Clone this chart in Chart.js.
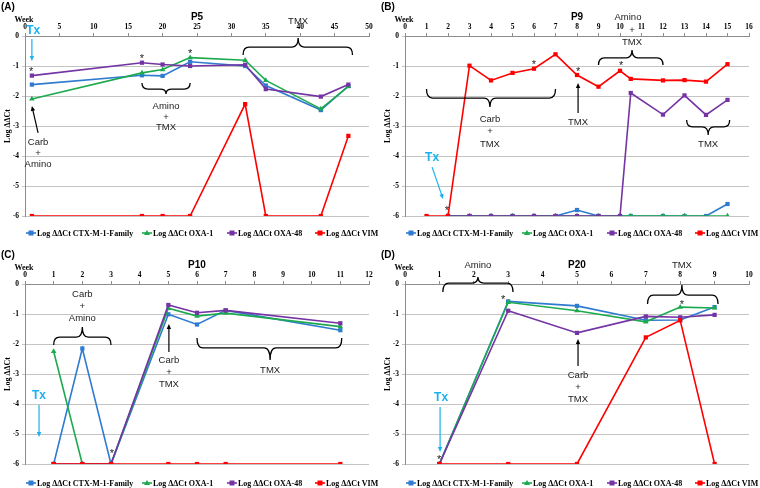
<!DOCTYPE html>
<html>
<head>
<meta charset="utf-8">
<script src="https://cdn.jsdelivr.net/npm/chart.js@4.4.1/dist/chart.umd.min.js"></script>
<style>
    body { margin: 0; background: #fff; width: 760px; height: 488px; position: relative; overflow: hidden; }
    canvas { position: absolute; }
</style>
</head>
<body>
<canvas id="cA" width="380" height="244" style="left:0;top:0"></canvas>
<canvas id="cB" width="380" height="244" style="left:380px;top:0"></canvas>
<canvas id="cC" width="380" height="240" style="left:0;top:248px"></canvas>
<canvas id="cD" width="380" height="240" style="left:380px;top:248px"></canvas>
<script>
// Données (semaines / Log ΔΔCt)
const seriesNames = ['Log ΔΔCt CTX-M-1-Family', 'Log ΔΔCt OXA-1', 'Log ΔΔCt OXA-48', 'Log ΔΔCt VIM'];

// P5
const p5Weeks  = [1, 17, 20, 24, 32, 35, 43, 47];
const p5Ctx    = [-1.62, -1.31, -1.33, -0.86, -1.0, -1.65, -2.47, -1.67];
const p5Oxa1   = [-2.1, -1.23, -1.12, -0.72, -0.81, -1.48, -2.43, -1.68];
const p5Oxa48  = [-1.32, -0.89, -0.95, -1.0, -0.96, -1.77, -2.02, -1.62];
const p5Vim    = [-6, -6, -6, -6, -2.27, -6, -6, -3.33];

// P9
const p9Weeks  = [1, 2, 3, 4, 5, 6, 7, 8, 9, 10, 10.5, 12, 13, 14, 15];
const p9Ctx    = [null, -6, -6, -6, -6, -6, -6, -5.8, -6, -6, -6, -6, -6, -6, -5.6];
const p9Oxa1   = [null, -6, -6, -6, -6, -6, -6, -6, -6, -6, -6, -6, -6, null, -6];
const p9Oxa48  = [null, -6, -6, -6, -6, -6, -6, -6, -6, -6, -1.9, -2.62, -1.98, -2.63, -2.13];
const p9Vim    = [-6, -6, -0.99, -1.48, -1.23, -1.09, -0.61, -1.3, -1.69, -1.16, -1.43, -1.48, -1.47, -1.52, -0.94];

// P10
const p10Weeks = [1, 2, 3, 5, 6, 7, 11];
const p10Ctx   = [-6, -2.15, -6, -1.01, -1.35, -0.88, -1.54];
const p10Oxa1  = [-2.25, -6, -6, -0.81, -1.07, -0.97, -1.42];
const p10Oxa48 = [-6, -6, -6, -0.7, -0.96, -0.88, -1.31];
const p10Vim   = [-6, -6, -6, -6, -6, -6, -6];

// P20
const p20Weeks = [1, 3, 5, 7, 8, 9];
const p20Ctx   = [-6, -0.58, -0.73, -1.21, -1.2, -0.77];
const p20Oxa1  = [-6, -0.61, -0.89, -1.26, -0.77, -0.8];
const p20Oxa48 = [-6, -0.89, -1.63, -1.08, -1.11, -1.03];
const p20Vim   = [-6, -6, -6, -1.78, -1.21, -6];

const colors = ['#2E7BCF', '#1DAA4F', '#7434A4', '#FF0000'];
const shapes = ['rect', 'triangle', 'rect', 'rect'];
const TXBLUE = '#1AB2EE';
const SANS = '"Liberation Sans", Arial, sans-serif';
const SERIF = '"Liberation Serif", "Times New Roman", serif';

function points(weeks, vals) {
    return weeks.map((w, i) => ({ x: w, y: vals[i] }));
}

function dataset(i, weeks, vals) {
    return {
        label: seriesNames[i],
        data: points(weeks, vals),
        borderColor: colors[i],
        backgroundColor: colors[i],
        borderWidth: 1.6,
        pointStyle: shapes[i],
        pointRadius: i === 1 ? 3.2 : 3,
        pointBorderWidth: 0,
        spanGaps: true,
        tension: 0
    };
}

// annotations (accolades, flèches, textes) en coordonnées de données
function drawBrace(ctx, xa, xb, xt, ye, yb, yt) {
    const r = Math.min(6, Math.abs(xb - xa) / 5);
    ctx.beginPath();
    ctx.moveTo(xa, ye);
    ctx.quadraticCurveTo(xa, yb, xa + r, yb);
    ctx.lineTo(xt - r, yb);
    ctx.quadraticCurveTo(xt, yb, xt, yt);
    ctx.moveTo(xt, yt);
    ctx.quadraticCurveTo(xt, yb, xt + r, yb);
    ctx.lineTo(xb - r, yb);
    ctx.quadraticCurveTo(xb, yb, xb, ye);
    ctx.stroke();
}

function drawArrow(ctx, x1, y1, x2, y2, color) {
    const ang = Math.atan2(y2 - y1, x2 - x1);
    ctx.strokeStyle = color;
    ctx.fillStyle = color;
    ctx.lineWidth = 1.2;
    ctx.beginPath();
    ctx.moveTo(x1, y1);
    ctx.lineTo(x2 - 4 * Math.cos(ang), y2 - 4 * Math.sin(ang));
    ctx.stroke();
    ctx.beginPath();
    ctx.moveTo(x2, y2);
    ctx.lineTo(x2 - 5 * Math.cos(ang) + 2.2 * Math.sin(ang), y2 - 5 * Math.sin(ang) - 2.2 * Math.cos(ang));
    ctx.lineTo(x2 - 5 * Math.cos(ang) - 2.2 * Math.sin(ang), y2 - 5 * Math.sin(ang) + 2.2 * Math.cos(ang));
    ctx.closePath();
    ctx.fill();
}

function makeDecor(letter, title, notes, legendY) {
    return {
        id: 'decor' + letter,
        afterDraw(chart) {
            const { ctx, chartArea, scales: { x, y } } = chart;
            const X = v => x.getPixelForValue(v);
            const Y = v => y.getPixelForValue(v);
            ctx.save();

            // lettre, titre, "Week", titre de l'axe y
            ctx.fillStyle = '#000';
            ctx.textBaseline = 'middle';
            ctx.textAlign = 'left';
            ctx.font = 'bold 10px ' + SANS;
            ctx.fillText('(' + letter + ')', 1, 7);
            ctx.textAlign = 'center';
            ctx.font = 'bold 10px ' + SANS;
            ctx.fillText(title, (chartArea.left + chartArea.right) / 2, 17);
            ctx.font = 'bold 8px ' + SERIF;
            ctx.fillText('Week', 24, 20);
            ctx.save();
            ctx.translate(8, (chartArea.top + chartArea.bottom) / 2);
            ctx.rotate(-Math.PI / 2);
            ctx.fillText('Log ΔΔCt', 0, 0);
            ctx.restore();

            // annotations
            notes.forEach(a => {
                if (a.k === 'text') {
                    ctx.fillStyle = '#222';
                    ctx.font = '9.5px ' + SANS;
                    ctx.textAlign = 'center';
                    ctx.fillText(a.s, X(a.x), Y(a.y));
                } else if (a.k === 'star') {
                    ctx.fillStyle = '#222';
                    ctx.font = '11px ' + SANS;
                    ctx.textAlign = 'center';
                    ctx.fillText('*', X(a.x), Y(a.y) + 3);
                } else if (a.k === 'tx') {
                    ctx.fillStyle = TXBLUE;
                    ctx.font = 'bold 12px ' + SANS;
                    ctx.textAlign = 'center';
                    ctx.fillText('Tx', X(a.x), Y(a.y));
                } else if (a.k === 'arrow') {
                    drawArrow(ctx, X(a.x1), Y(a.y1), X(a.x2), Y(a.y2), a.blue ? TXBLUE : '#000');
                } else if (a.k === 'brace') {
                    ctx.strokeStyle = '#000';
                    ctx.lineWidth = 1.3;
                    drawBrace(ctx, X(a.xa), X(a.xb), X(a.xt), Y(a.ye), Y(a.yb), Y(a.yt));
                }
            });

            // légende façon Excel
            const lx = [26, 142, 227, 315];
            ctx.font = 'bold 8px ' + SERIF;
            ctx.textAlign = 'left';
            chart.data.datasets.slice().reverse().forEach((ds, i) => {
                const x0 = lx[i];
                ctx.strokeStyle = ds.borderColor;
                ctx.lineWidth = 1.6;
                ctx.beginPath();
                ctx.moveTo(x0, legendY);
                ctx.lineTo(x0 + 10, legendY);
                ctx.stroke();
                ctx.fillStyle = ds.borderColor;
                if (ds.pointStyle === 'triangle') {
                    ctx.beginPath();
                    ctx.moveTo(x0 + 5, legendY - 3);
                    ctx.lineTo(x0 + 8, legendY + 2);
                    ctx.lineTo(x0 + 2, legendY + 2);
                    ctx.closePath();
                    ctx.fill();
                } else {
                    ctx.fillRect(x0 + 2.5, legendY - 2.5, 5, 5);
                }
                ctx.fillStyle = '#000';
                ctx.fillText(ds.label, x0 + 11, legendY + 0.5);
            });
            ctx.restore();
        }
    };
}

function buildChart(id, letter, title, xMax, step, weeks, ctxV, oxa1, oxa48, vim, notes, padBottom, legendY) {
    const tickFont = { family: SERIF, size: 7.5, weight: 'bold' };
    return new Chart(document.getElementById(id), {
        type: 'line',
        data: {
            // VIM en premier = dessiné au-dessus
            datasets: [
                dataset(3, weeks, vim),
                dataset(2, weeks, oxa48),
                dataset(1, weeks, oxa1),
                dataset(0, weeks, ctxV)
            ]
        },
        options: {
            animation: false,
            responsive: false,
            layout: { padding: { left: 0, top: 0, right: 11, bottom: padBottom } },
            plugins: { legend: { display: false }, tooltip: { enabled: false } },
            scales: {
                x: {
                    type: 'linear',
                    position: 'top',
                    min: 0,
                    max: xMax,
                    ticks: { stepSize: step, color: '#000', font: tickFont, padding: 1, maxRotation: 0 },
                    grid: { drawOnChartArea: false, tickLength: 3, color: '#8c8c8c' },
                    border: { color: '#8c8c8c' },
                    afterFit: s => { s.height = 36; }
                },
                y: {
                    min: -6,
                    max: 0,
                    ticks: { stepSize: 1, color: '#000', font: tickFont, padding: 3 },
                    grid: { color: '#c4c4c4', tickLength: 3 },
                    border: { color: '#8c8c8c' },
                    afterFit: s => { s.width = 25; }
                }
            }
        },
        plugins: [makeDecor(letter, title, notes, legendY)]
    });
}

const notesA = [
    { k: 'tx', x: 1.2, y: 0.17 },
    { k: 'arrow', blue: true, x1: 1.0, y1: -0.1, x2: 1.0, y2: -0.83 },
    { k: 'star', x: 0.9, y: -1.1 },
    { k: 'star', x: 17, y: -0.67 },
    { k: 'star', x: 24, y: -0.5 },
    { k: 'brace', xa: 17, xb: 24, xt: 20.5, ye: -1.57, yb: -1.77, yt: -1.93 },
    { k: 'text', s: 'Amino', x: 20.5, y: -2.33 },
    { k: 'text', s: '+', x: 20.5, y: -2.7 },
    { k: 'text', s: 'TMX', x: 20.5, y: -3.03 },
    { k: 'arrow', x1: 1.9, y1: -3.23, x2: 1.0, y2: -2.33 },
    { k: 'text', s: 'Carb', x: 1.9, y: -3.53 },
    { k: 'text', s: '+', x: 1.9, y: -3.9 },
    { k: 'text', s: 'Amino', x: 1.9, y: -4.27 },
    { k: 'brace', xa: 31.7, xb: 47.6, xt: 39.7, ye: -0.63, yb: -0.37, yt: -0.07 },
    { k: 'text', s: 'TMX', x: 39.7, y: 0.5 }
];

const notesB = [
    { k: 'text', s: 'Amino', x: 10.37, y: 0.63 },
    { k: 'text', s: '+', x: 10.56, y: 0.2 },
    { k: 'text', s: 'TMX', x: 10.56, y: -0.2 },
    { k: 'brace', xa: 9, xb: 12, xt: 10.56, ye: -0.97, yb: -0.73, yt: -0.47 },
    { k: 'star', x: 6, y: -0.87 },
    { k: 'star', x: 8.05, y: -1.1 },
    { k: 'star', x: 10.05, y: -0.9 },
    { k: 'star', x: 1.95, y: -5.73 },
    { k: 'brace', xa: 1, xb: 7, xt: 3.95, ye: -1.77, yb: -2.07, yt: -2.37 },
    { k: 'text', s: 'Carb', x: 3.95, y: -2.77 },
    { k: 'text', s: '+', x: 3.95, y: -3.17 },
    { k: 'text', s: 'TMX', x: 3.95, y: -3.6 },
    { k: 'arrow', x1: 8.05, y1: -2.57, x2: 8.05, y2: -1.57 },
    { k: 'text', s: 'TMX', x: 8.05, y: -2.87 },
    { k: 'brace', xa: 13.1, xb: 15.1, xt: 14.1, ye: -2.8, yb: -3.03, yt: -3.3 },
    { k: 'text', s: 'TMX', x: 14.1, y: -3.6 },
    { k: 'tx', x: 1.26, y: -4.07 },
    { k: 'arrow', blue: true, x1: 1.26, y1: -4.37, x2: 1.77, y2: -5.43 }
];

const notesC = [
    { k: 'text', s: 'Carb', x: 2, y: -0.33 },
    { k: 'text', s: '+', x: 2, y: -0.73 },
    { k: 'text', s: 'Amino', x: 2, y: -1.13 },
    { k: 'brace', xa: 1, xb: 3, xt: 2, ye: -2.03, yb: -1.77, yt: -1.43 },
    { k: 'arrow', x1: 5.02, y1: -2.27, x2: 5.02, y2: -1.33 },
    { k: 'text', s: 'Carb', x: 5.02, y: -2.53 },
    { k: 'text', s: '+', x: 5.02, y: -2.93 },
    { k: 'text', s: 'TMX', x: 5.02, y: -3.33 },
    { k: 'brace', xa: 6, xb: 11.05, xt: 8.55, ye: -1.8, yb: -2.13, yt: -2.53 },
    { k: 'text', s: 'TMX', x: 8.55, y: -2.87 },
    { k: 'tx', x: 0.49, y: -3.73 },
    { k: 'arrow', blue: true, x1: 0.49, y1: -4.03, x2: 0.49, y2: -5.1 },
    { k: 'star', x: 3.03, y: -5.57 }
];

const notesD = [
    { k: 'text', s: 'Amino', x: 2.12, y: 0.63 },
    { k: 'brace', xa: 1.1, xb: 3.14, xt: 2.12, ye: -0.27, yb: 0.03, yt: 0.23 },
    { k: 'star', x: 2.85, y: -0.43 },
    { k: 'text', s: 'TMX', x: 8.05, y: 0.63 },
    { k: 'brace', xa: 7.05, xb: 9.1, xt: 8.05, ye: -0.67, yb: -0.37, yt: -0.03 },
    { k: 'star', x: 8.05, y: -0.6 },
    { k: 'arrow', x1: 5.03, y1: -2.73, x2: 5.03, y2: -1.83 },
    { k: 'text', s: 'Carb', x: 5.03, y: -3.03 },
    { k: 'text', s: '+', x: 5.03, y: -3.43 },
    { k: 'text', s: 'TMX', x: 5.03, y: -3.83 },
    { k: 'tx', x: 1.05, y: -3.8 },
    { k: 'arrow', blue: true, x1: 1.02, y1: -4.1, x2: 1.02, y2: -5.6 },
    { k: 'star', x: 0.99, y: -5.77 }
];

buildChart('cA', 'A', 'P5', 50, 5, p5Weeks, p5Ctx, p5Oxa1, p5Oxa48, p5Vim, notesA, 28, 233);
buildChart('cB', 'B', 'P9', 16, 1, p9Weeks, p9Ctx, p9Oxa1, p9Oxa48, p9Vim, notesB, 28, 233);
buildChart('cC', 'C', 'P10', 12, 1, p10Weeks, p10Ctx, p10Oxa1, p10Oxa48, p10Vim, notesC, 24, 235);
buildChart('cD', 'D', 'P20', 10, 1, p20Weeks, p20Ctx, p20Oxa1, p20Oxa48, p20Vim, notesD, 24, 235);
</script>
</body>
</html>
